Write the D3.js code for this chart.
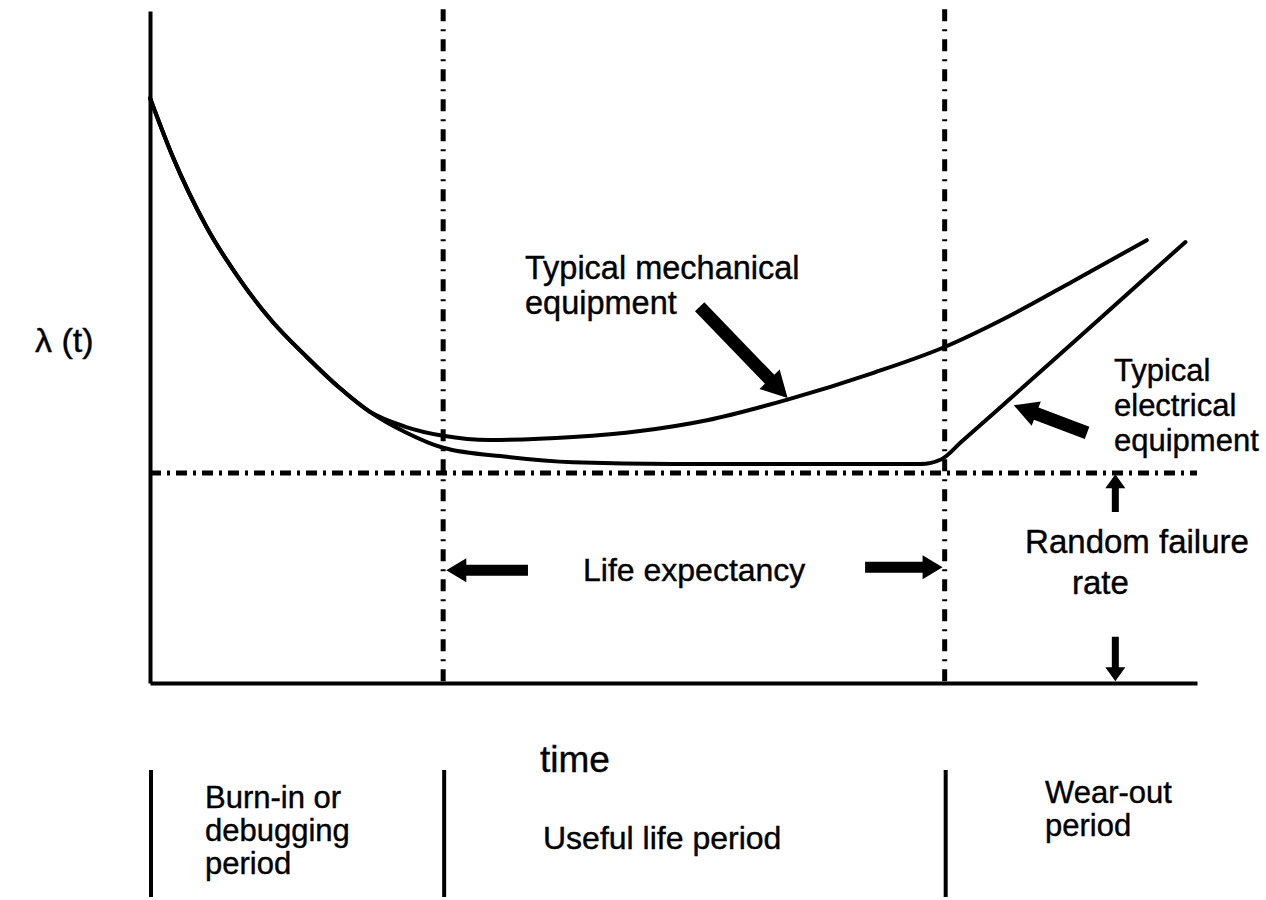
<!DOCTYPE html>
<html>
<head>
<meta charset="utf-8">
<script src="https://cdn.jsdelivr.net/npm/d3@7"></script>
<style>
    body { margin: 0; background: #fff; }
    svg text { font-family: "Liberation Sans", Arial, sans-serif; fill: #000; stroke: #000; stroke-width: 0.4px; }
</style>
</head>
<body>
<svg id="drawing_region"></svg>
<script>
// 共通部分（初期故障期）
const commonT = [0, 2.2, 5.4, 8.6, 11.7, 15, 18.1, 21];
const commonRate = [97.5, 87.6, 76, 67.2, 60.2, 54.3, 49.2, 45.2];

// 機械設備
const mechanicalT = [24.4, 28, 32.5, 40.4, 46.8, 53.2, 60.8, 69.1, 75.9, 81.9, 88.2, 95.2];
const mechanicalRate = [42.7, 41.2, 40.5, 41, 42, 43.8, 47.2, 51.7, 56, 61, 67, 73.8];

// 電気設備
const electricalT = [24.4, 28, 34.1, 40.4, 50, 59.5, 73.6, 75.6, 77.5, 81.9, 88.2, 94.6, 98.9];
const electricalRate = [41.8, 39.2, 37.7, 36.8, 36.5, 36.5, 36.5, 37.3, 40.2, 47, 56.8, 66.8, 73.5];

const randomRate = 35;
const periodBounds = [28, 75.9];
const periodStarts = [0, 28, 75.9];
const periodLabels = [["Burn-in or", "debugging", "period"], ["Useful life period"], ["Wear-out", "period"]];

const width = 1266, height = 900;
const svg = d3.select('#drawing_region').attr('width', width).attr('height', height);
svg.append('rect').attr('width', width).attr('height', height).attr('fill', '#fff');

const xscale = d3.scaleLinear().domain([0, 100]).range([150, 1197]);
const yscale = d3.scaleLinear().domain([0, 112]).range([683, 11]);

// 補助線（一点鎖線）
periodBounds.forEach(t => {
    svg.append('line')
        .attr('x1', xscale(t)).attr('x2', xscale(t))
        .attr('y1', yscale(112.3)).attr('y2', yscale(0))
        .attr('stroke', '#000').attr('stroke-width', 5)
        .attr('stroke-dasharray', '12,8,2,8');
});
svg.append('line')
    .attr('x1', xscale(0)).attr('x2', xscale(100))
    .attr('y1', yscale(randomRate)).attr('y2', yscale(randomRate))
    .attr('stroke', '#000').attr('stroke-width', 5)
    .attr('stroke-dasharray', '11,6,3,6');

// 軸
const xaxis = d3.axisBottom(xscale).ticks(0).tickSizeOuter(0);
const yaxis = d3.axisLeft(yscale).ticks(0).tickSizeOuter(0);
svg.append('g').attr('transform', `translate(0, ${yscale(0)})`).call(xaxis)
    .select('.domain').attr('stroke-width', 4);
svg.append('g').attr('transform', `translate(${xscale(0)}, 0)`).call(yaxis)
    .select('.domain').attr('stroke-width', 4);

// 曲線
const line = d3.line()
    .x(d => xscale(d[0]))
    .y(d => yscale(d[1]))
    .curve(d3.curveMonotoneX);

const common = commonT.map((t, i) => [t, commonRate[i]]);
const mech = common.concat(mechanicalT.map((t, i) => [t, mechanicalRate[i]]));
const elec = common.concat(electricalT.map((t, i) => [t, electricalRate[i]]));

[mech, elec].forEach(d => {
    svg.append('path').attr('d', line(d))
        .attr('fill', 'none').attr('stroke', '#000')
        .attr('stroke-width', 4).attr('stroke-linecap', 'round');
});

// 矢印
function arrow(from, to, w, hl, hw) {
    const x1 = xscale(from[0]), y1 = yscale(from[1]);
    const x2 = xscale(to[0]), y2 = yscale(to[1]);
    const len = Math.hypot(x2 - x1, y2 - y1);
    const ux = (x2 - x1) / len, uy = (y2 - y1) / len;
    const px = -uy, py = ux;
    const bx = x2 - ux * hl, by = y2 - uy * hl;
    const pts = [
        [x1 + px * w / 2, y1 + py * w / 2],
        [bx + px * w / 2, by + py * w / 2],
        [bx + px * hw / 2, by + py * hw / 2],
        [x2, y2],
        [bx - px * hw / 2, by - py * hw / 2],
        [bx - px * w / 2, by - py * w / 2],
        [x1 - px * w / 2, y1 - py * w / 2]
    ];
    svg.append('polygon').attr('points', pts.map(p => p.join(',')).join(' ')).attr('fill', '#000');
}

arrow([52.5, 62.7], [60.9, 47.5], 13, 26, 28);
arrow([89.5, 41.7], [82.5, 46.3], 13, 24, 26);
arrow([36.1, 18.8], [28.3, 18.8], 11, 20, 24);
arrow([68.3, 19.3], [75.7, 19.3], 11, 20, 24);
arrow([92.2, 28.5], [92.2, 34.8], 7, 14, 20);
arrow([92.2, 7.7], [92.2, 0.3], 7, 14, 20);

// テキスト
function label(lines, x, y, size, spacing, anchor) {
    const t = svg.append('text').attr('x', x).attr('y', y)
        .attr('font-size', size).attr('text-anchor', anchor || 'start');
    lines.forEach((s, i) => {
        t.append('tspan').attr('x', x).attr('dy', i === 0 ? 0 : spacing).text(s);
    });
}

label(['λ (t)'], 35, 352, 34);
label(['Typical mechanical', 'equipment'], 525, 279, 32.5, 35);
label(['Typical', 'electrical', 'equipment'], 1114, 381, 31, 35);
label(['Life expectancy'], 583, 581, 32);
label(['Random failure'], 1137, 553, 33, 0, 'middle');
label(['rate'], 1072, 594, 33);
label(['time'], 540, 772, 37);

// 期間区切り
periodStarts.forEach(t => {
    svg.append('line')
        .attr('x1', xscale(t) + 1).attr('x2', xscale(t) + 1)
        .attr('y1', 770).attr('y2', 897)
        .attr('stroke', '#000').attr('stroke-width', 4);
});
label(periodLabels[0], 205, 808, 31, 33);
label(periodLabels[1], 543, 849, 32, 33);
label(periodLabels[2], 1045, 803, 31, 33);
</script>
</body>
</html>
